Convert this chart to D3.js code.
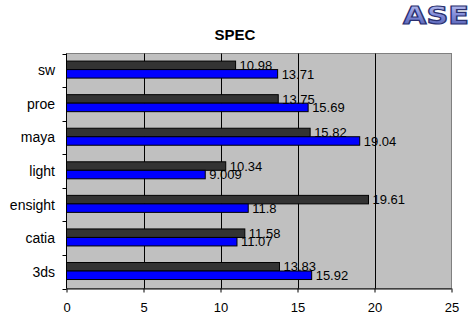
<!DOCTYPE html>
<html>
<head>
<meta charset="utf-8">
<script src="https://cdn.jsdelivr.net/npm/d3@7"></script>
<style>
  html, body { margin: 0; padding: 0; background: #fff; }
  svg { display: block; }
</style>
</head>
<body>
<svg id="chart" width="472" height="321"></svg>
<script>
const categories = ["sw", "proe", "maya", "light", "ensight", "catia", "3ds"];
const seriesA = [10.98, 13.75, 15.82, 10.34, 19.61, 11.58, 13.83];   // dark bars
const seriesB = [13.71, 15.69, 19.04, 9.009, 11.8, 11.07, 15.92];    // blue bars
const seriesALabels = ["10.98", "13.75", "15.82", "10.34", "19.61", "11.58", "13.83"];
const seriesBLabels = ["13.71", "15.69", "19.04", "9.009", "11.8", "11.07", "15.92"];
const xTicks = [0, 5, 10, 15, 20, 25];
const title = "SPEC";

const svg = d3.select("#chart");
const L = 66.5, R = 451.5, T = 53.5, B = 288.5;

const x = d3.scaleLinear().domain([0, 25]).range([L, R]);
const y = d3.scaleBand().domain(categories).range([T, B]);

// plot area
svg.append("rect").attr("x", L).attr("y", T).attr("width", R - L).attr("height", B - T)
  .attr("fill", "#c0c0c0").attr("stroke", "#808080").attr("stroke-width", 1);

// gridlines
svg.append("g").selectAll("line").data(xTicks.filter(d => d > 0 && d < 25)).join("line")
  .attr("x1", d => Math.round(x(d)) + 0.5).attr("x2", d => Math.round(x(d)) + 0.5)
  .attr("y1", T).attr("y2", B).attr("stroke", "#000").attr("stroke-width", 1);

// bars
const bw = 8.5;
const gBars = svg.append("g");
categories.forEach((c, i) => {
  const cy = y(c) + y.bandwidth() / 2 - 0.7;
  gBars.append("rect").attr("x", x(0)).attr("y", cy - bw)
    .attr("width", x(seriesA[i]) - x(0)).attr("height", bw)
    .attr("fill", "#333333").attr("stroke", "#000").attr("stroke-width", 1);
  gBars.append("rect").attr("x", x(0)).attr("y", cy)
    .attr("width", x(seriesB[i]) - x(0)).attr("height", bw)
    .attr("fill", "#0000ff").attr("stroke", "#000").attr("stroke-width", 1);
});

// value labels
const gLab = svg.append("g").attr("font-family", "Arial, 'Liberation Sans', sans-serif")
  .attr("font-size", "13px").attr("fill", "#000");
categories.forEach((c, i) => {
  const cy = y(c) + y.bandwidth() / 2 - 0.7;
  gLab.append("text").attr("x", x(seriesA[i]) + 4).attr("y", cy - bw / 2)
    .attr("dy", "0.36em").text(seriesALabels[i]);
  gLab.append("text").attr("x", x(seriesB[i]) + 4).attr("y", cy + bw / 2)
    .attr("dy", "0.36em").text(seriesBLabels[i]);
});

// axes
const xAxis = d3.axisBottom(x).tickValues(xTicks).tickSize(4).tickPadding(10);
const gx = svg.append("g").attr("transform", `translate(0,${B})`).call(xAxis);
gx.select(".domain").attr("stroke", "#000").attr("d", `M${L},0.5H${R}`);
gx.selectAll(".tick line").attr("stroke", "#000");
gx.selectAll("text").attr("font-family", "Arial, 'Liberation Sans', sans-serif")
  .attr("font-size", "13px").attr("fill", "#000");

// y axis line and ticks at category boundaries
svg.append("line").attr("x1", L).attr("x2", L).attr("y1", T).attr("y2", B)
  .attr("stroke", "#000");
const bounds = categories.map(c => y(c)).concat([B]);
svg.append("g").selectAll("line").data(bounds).join("line")
  .attr("x1", L - 4).attr("x2", L).attr("y1", d => Math.round(d) + 0.5).attr("y2", d => Math.round(d) + 0.5)
  .attr("stroke", "#000");
svg.append("g").selectAll("text").data(categories).join("text")
  .attr("x", 55).attr("y", d => y(d) + y.bandwidth() / 2)
  .attr("dy", "0.36em").attr("text-anchor", "end")
  .attr("font-family", "Arial, 'Liberation Sans', sans-serif").attr("font-size", "14px")
  .attr("fill", "#000").text(d => d);

// title
svg.append("text").attr("x", 235).attr("y", 40).attr("text-anchor", "middle")
  .attr("font-family", "Arial, 'Liberation Sans', sans-serif").attr("font-size", "15px")
  .attr("font-weight", "bold").attr("fill", "#000").text(title);

// logo
const defs = svg.append("defs");
const grad = defs.append("linearGradient").attr("id", "lg").attr("x1", 0).attr("x2", 0).attr("y1", 0).attr("y2", 1);
grad.append("stop").attr("offset", "0%").attr("stop-color", "#c8ccf4");
grad.append("stop").attr("offset", "50%").attr("stop-color", "#7f8ad8");
grad.append("stop").attr("offset", "100%").attr("stop-color", "#4a55a8");
svg.append("text").attr("x", 469).attr("y", 24).attr("text-anchor", "end")
  .attr("font-family", "'DejaVu Sans', sans-serif").attr("font-size", "25px")
  .attr("font-weight", "bold").attr("textLength", 66).attr("lengthAdjust", "spacingAndGlyphs")
  .attr("fill", "url(#lg)").attr("stroke", "#2a3070").attr("stroke-width", 1.2)
  .text("ASE");
</script>
</body>
</html>
